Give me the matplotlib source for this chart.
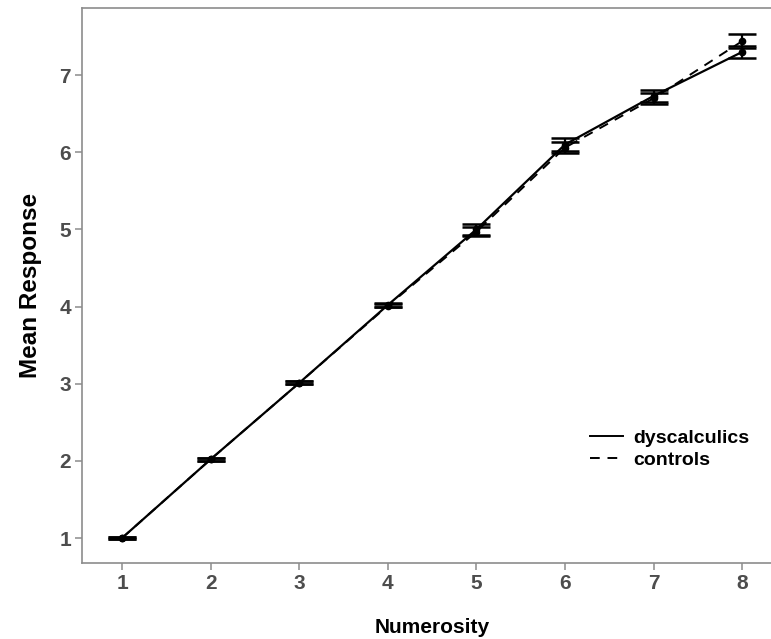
import matplotlib
matplotlib.use("agg")
import matplotlib.pyplot as plt
from matplotlib.lines import Line2D

plt.rcParams["font.family"] = ["Liberation Sans", "DejaVu Sans"]

numerosity = [1, 2, 3, 4, 5, 6, 7, 8]

# mean responses and error bar half-widths
dysc_mean = [1.00, 2.02, 3.01, 4.02, 5.00, 6.10, 6.73, 7.30]
dysc_err = [0.01, 0.02, 0.02, 0.02, 0.07, 0.09, 0.08, 0.08]
ctrl_mean = [1.00, 2.02, 3.01, 4.01, 4.97, 6.06, 6.70, 7.44]
ctrl_err = [0.01, 0.02, 0.02, 0.02, 0.06, 0.07, 0.07, 0.09]

fig = plt.figure(figsize=(7.71, 6.39), dpi=100)
ax = fig.add_axes([82 / 771, 76 / 639, 700 / 771, 555 / 639])

ax.errorbar(numerosity, dysc_mean, yerr=dysc_err, color="black", lw=1.6,
            ls="-", marker="o", ms=4.5, capsize=10, capthick=1.8,
            elinewidth=1.6, label="dyscalculics")
ax.errorbar(numerosity, ctrl_mean, yerr=ctrl_err, color="black", lw=1.4,
            ls=(0, (5, 4)), marker="o", ms=4.5, capsize=10, capthick=1.8,
            elinewidth=1.6, label="controls")

ax.set_xlim(0.548, 8.45)
ax.set_ylim(0.676, 7.87)
ax.set_xticks(numerosity)
ax.set_yticks([1, 2, 3, 4, 5, 6, 7])

for side in ax.spines.values():
    side.set_color("#8c8c8c")
    side.set_linewidth(1.2)
ax.tick_params(colors="#8c8c8c", length=5, width=1.1, labelcolor="#4d4d4d",
               labelsize=15, pad=3)
for lab in ax.get_xticklabels() + ax.get_yticklabels():
    lab.set_fontweight("bold")

ax.set_xlabel("Numerosity", fontsize=15, fontweight="bold", labelpad=18)
ax.set_ylabel("Mean Response", fontsize=17.5, fontweight="bold", labelpad=12)

# legend with line samples only (no error bar glyphs)
handles = [Line2D([], [], color="black", lw=1.4, ls="-"),
           Line2D([], [], color="black", lw=1.4, ls=(0, (5, 4)))]
leg = ax.legend(handles, ["dyscalculics", "controls"], frameon=False,
                loc="center left", bbox_to_anchor=(0.7, 0.205),
                prop={"weight": "bold", "size": 14}, handlelength=1.7,
                handletextpad=0.55, labelspacing=0.25)

fig.savefig("out.png", dpi=100)
plt.close(fig)
